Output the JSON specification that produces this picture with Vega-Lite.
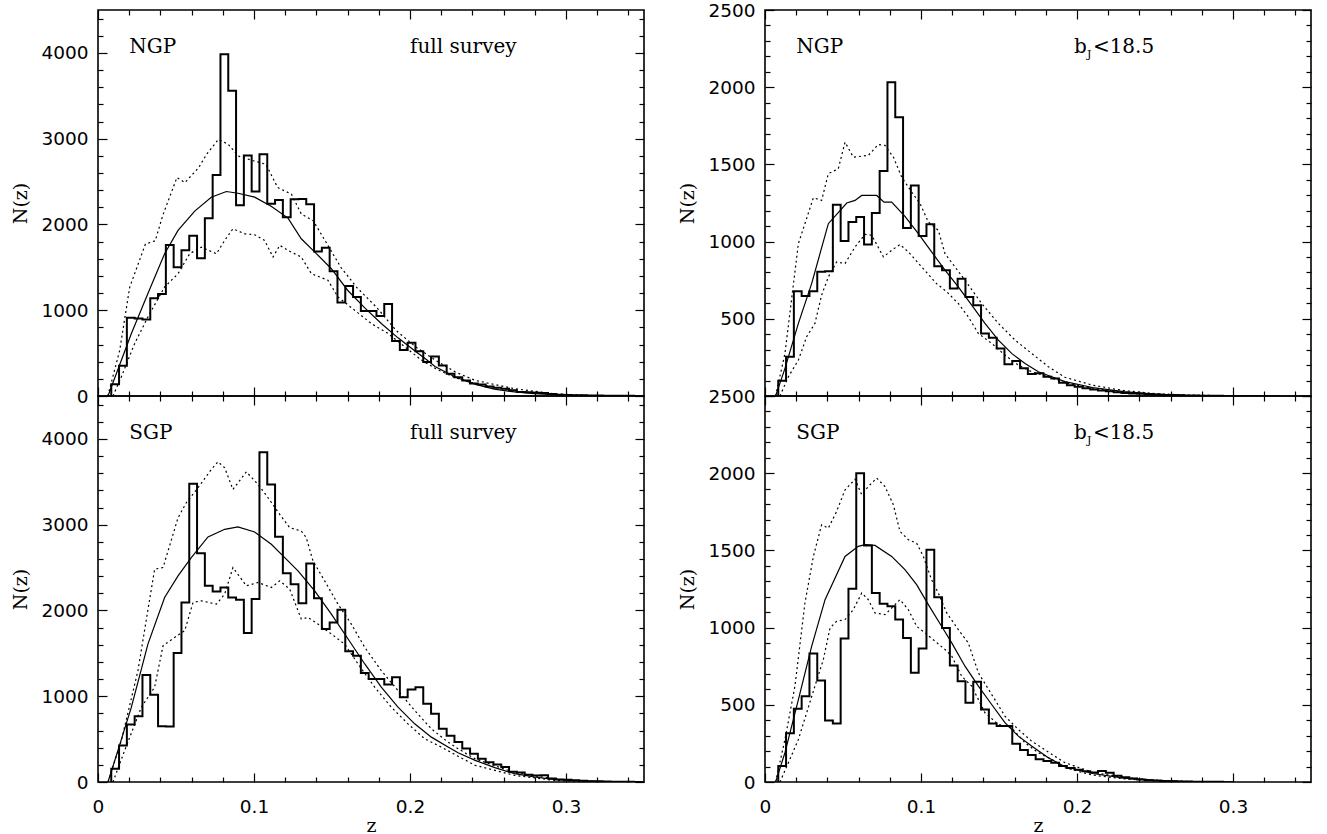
{
  "$schema": "https://vega.github.io/schema/vega-lite/v6.json",
  "background": "white",
  "padding": {"left": 11, "top": 0, "right": 17, "bottom": 3},
  "columns": 2,
  "spacing": {"row": 0, "column": 121},
  "bounds": "flush",
  "datasets": {
    "tl_hist": [
      {"z":0.0085,"n":0},{"z":0.0085,"n":136},{"z":0.0135,"n":353},{"z":0.0185,"n":911},{"z":0.0235,"n":903},{"z":0.0285,"n":891},
      {"z":0.0335,"n":1140},{"z":0.0385,"n":1190},{"z":0.0435,"n":1760},{"z":0.0485,"n":1500},{"z":0.0535,"n":1700},
      {"z":0.0585,"n":1868},{"z":0.0635,"n":1605},{"z":0.0685,"n":2073},{"z":0.0735,"n":2577},{"z":0.0785,"n":3984},
      {"z":0.0835,"n":3558},{"z":0.0885,"n":2225},{"z":0.0935,"n":2803},{"z":0.0985,"n":2384},{"z":0.1035,"n":2818},
      {"z":0.1085,"n":2240},{"z":0.1135,"n":2286},{"z":0.1185,"n":2085},{"z":0.1235,"n":2294},{"z":0.1285,"n":2298},
      {"z":0.1335,"n":2236},{"z":0.1385,"n":1686},{"z":0.1435,"n":1728},{"z":0.1485,"n":1453},{"z":0.1535,"n":1090},
      {"z":0.1585,"n":1283},{"z":0.1635,"n":1155},{"z":0.1685,"n":992},{"z":0.1735,"n":992},{"z":0.1785,"n":934},
      {"z":0.1835,"n":1074},{"z":0.1885,"n":640},{"z":0.1935,"n":535},{"z":0.1985,"n":620},{"z":0.2035,"n":523},
      {"z":0.2085,"n":395},{"z":0.2135,"n":460},{"z":0.2185,"n":357},{"z":0.2235,"n":260},{"z":0.2285,"n":220},
      {"z":0.2335,"n":180},{"z":0.2385,"n":145},{"z":0.2435,"n":135},{"z":0.2485,"n":112},{"z":0.2535,"n":97},
      {"z":0.2585,"n":85},{"z":0.2635,"n":66},{"z":0.2685,"n":47},{"z":0.2735,"n":43},{"z":0.2785,"n":39},
      {"z":0.2835,"n":35},{"z":0.2885,"n":23},{"z":0.2935,"n":16},{"z":0.2985,"n":12},{"z":0.3035,"n":10},
      {"z":0.3085,"n":8},{"z":0.3135,"n":6},{"z":0.3185,"n":5},{"z":0.3235,"n":4},{"z":0.3285,"n":3},
      {"z":0.3335,"n":2},{"z":0.3385,"n":2},{"z":0.3435,"n":1},{"z":0.3485,"n":0}
    ],
    "bl_hist": [
      {"z":0.0085,"n":0},{"z":0.0085,"n":155},{"z":0.0135,"n":426},{"z":0.0185,"n":670},{"z":0.0235,"n":767},{"z":0.0285,"n":1248},
      {"z":0.0335,"n":1016},{"z":0.0385,"n":651},{"z":0.0435,"n":647},{"z":0.0485,"n":1504},{"z":0.0535,"n":2093},
      {"z":0.0585,"n":3477},{"z":0.0635,"n":2667},{"z":0.0685,"n":2287},{"z":0.0735,"n":2221},{"z":0.0785,"n":2267},
      {"z":0.0835,"n":2151},{"z":0.0885,"n":2124},{"z":0.0935,"n":1736},{"z":0.0985,"n":2132},{"z":0.1035,"n":3845},
      {"z":0.1085,"n":3469},{"z":0.1135,"n":2860},{"z":0.1185,"n":2434},{"z":0.1235,"n":2306},{"z":0.1285,"n":2085},
      {"z":0.1335,"n":2547},{"z":0.1385,"n":2143},{"z":0.1435,"n":1783},{"z":0.1485,"n":1860},{"z":0.1535,"n":2008},
      {"z":0.1585,"n":1523},{"z":0.1635,"n":1473},{"z":0.1685,"n":1271},{"z":0.1735,"n":1202},{"z":0.1785,"n":1202},
      {"z":0.1835,"n":1136},{"z":0.1885,"n":1221},{"z":0.1935,"n":988},{"z":0.1985,"n":1078},{"z":0.2035,"n":1105},
      {"z":0.2085,"n":911},{"z":0.2135,"n":795},{"z":0.2185,"n":620},{"z":0.2235,"n":540},{"z":0.2285,"n":465},
      {"z":0.2335,"n":390},{"z":0.2385,"n":330},{"z":0.2435,"n":270},{"z":0.2485,"n":230},{"z":0.2535,"n":205},
      {"z":0.2585,"n":175},{"z":0.2635,"n":120},{"z":0.2685,"n":110},{"z":0.2735,"n":85},{"z":0.2785,"n":75},
      {"z":0.2835,"n":80},{"z":0.2885,"n":40},{"z":0.2935,"n":30},{"z":0.2985,"n":25},{"z":0.3035,"n":20},
      {"z":0.3085,"n":15},{"z":0.3135,"n":10},{"z":0.3185,"n":8},{"z":0.3235,"n":6},{"z":0.3285,"n":4},
      {"z":0.3335,"n":3},{"z":0.3385,"n":2},{"z":0.3435,"n":1},{"z":0.3485,"n":0}
    ],
    "tr_hist": [
      {"z":0.0085,"n":0},{"z":0.0085,"n":99},{"z":0.0135,"n":254},{"z":0.0185,"n":679},{"z":0.0235,"n":647},{"z":0.0285,"n":679},
      {"z":0.0335,"n":804},{"z":0.0385,"n":808},{"z":0.0435,"n":1239},{"z":0.0485,"n":1004},{"z":0.0535,"n":1127},
      {"z":0.0585,"n":1159},{"z":0.0635,"n":981},{"z":0.0685,"n":1185},{"z":0.0735,"n":1457},{"z":0.0785,"n":2032},
      {"z":0.0835,"n":1806},{"z":0.0885,"n":1088},{"z":0.0935,"n":1364},{"z":0.0985,"n":1037},{"z":0.1035,"n":1112},
      {"z":0.1085,"n":840},{"z":0.1135,"n":815},{"z":0.1185,"n":696},{"z":0.1235,"n":759},{"z":0.1285,"n":642},
      {"z":0.1335,"n":588},{"z":0.1385,"n":405},{"z":0.1435,"n":377},{"z":0.1485,"n":308},{"z":0.1535,"n":205},
      {"z":0.1585,"n":226},{"z":0.1635,"n":179},{"z":0.1685,"n":142},{"z":0.1735,"n":147},{"z":0.1785,"n":125},
      {"z":0.1835,"n":114},{"z":0.1885,"n":86},{"z":0.1935,"n":70},{"z":0.1985,"n":60},{"z":0.2035,"n":50},
      {"z":0.2085,"n":42},{"z":0.2135,"n":36},{"z":0.2185,"n":30},{"z":0.2235,"n":25},{"z":0.2285,"n":20},
      {"z":0.2335,"n":17},{"z":0.2385,"n":14},{"z":0.2435,"n":11},{"z":0.2485,"n":9},{"z":0.2535,"n":7},
      {"z":0.2585,"n":6},{"z":0.2635,"n":5},{"z":0.2685,"n":4},{"z":0.2735,"n":3},{"z":0.2785,"n":2},
      {"z":0.2835,"n":2},{"z":0.2885,"n":1},{"z":0.2935,"n":0}
    ],
    "br_hist": [
      {"z":0.0085,"n":0},{"z":0.0085,"n":103},{"z":0.0135,"n":315},{"z":0.0185,"n":474},{"z":0.0235,"n":556},{"z":0.0285,"n":832},
      {"z":0.0335,"n":657},{"z":0.0385,"n":399},{"z":0.0435,"n":379},{"z":0.0485,"n":929},{"z":0.0535,"n":1252},
      {"z":0.0585,"n":2000},{"z":0.0635,"n":1532},{"z":0.0685,"n":1224},{"z":0.0735,"n":1155},{"z":0.0785,"n":1138},
      {"z":0.0835,"n":1052},{"z":0.0885,"n":933},{"z":0.0935,"n":707},{"z":0.0985,"n":864},{"z":0.1035,"n":1504},
      {"z":0.1085,"n":1196},{"z":0.1135,"n":998},{"z":0.1185,"n":754},{"z":0.1235,"n":653},{"z":0.1285,"n":513},
      {"z":0.1335,"n":649},{"z":0.1385,"n":470},{"z":0.1435,"n":379},{"z":0.1485,"n":362},{"z":0.1535,"n":362},
      {"z":0.1585,"n":248},{"z":0.1635,"n":207},{"z":0.1685,"n":175},{"z":0.1735,"n":147},{"z":0.1785,"n":136},
      {"z":0.1835,"n":125},{"z":0.1885,"n":103},{"z":0.1935,"n":90},{"z":0.1985,"n":80},{"z":0.2035,"n":70},
      {"z":0.2085,"n":62},{"z":0.2135,"n":72},{"z":0.2185,"n":60},{"z":0.2235,"n":40},{"z":0.2285,"n":30},
      {"z":0.2335,"n":22},{"z":0.2385,"n":16},{"z":0.2435,"n":12},{"z":0.2485,"n":9},{"z":0.2535,"n":7},
      {"z":0.2585,"n":5},{"z":0.2635,"n":4},{"z":0.2685,"n":3},{"z":0.2735,"n":2},{"z":0.2785,"n":2},
      {"z":0.2835,"n":1},{"z":0.2885,"n":1},{"z":0.2935,"n":0}
    ],
    "tl_model": [
      {"s":"fit","z":0.0064,"n":0},{"s":"fit","z":0.0214,"n":729},{"s":"fit","z":0.032,"n":1194},{"s":"fit","z":0.0427,"n":1659},
      {"s":"fit","z":0.0513,"n":1930},{"s":"fit","z":0.062,"n":2155},{"s":"fit","z":0.0726,"n":2318},{"s":"fit","z":0.0823,"n":2384},
      {"s":"fit","z":0.0897,"n":2364},{"s":"fit","z":0.1004,"n":2318},{"s":"fit","z":0.111,"n":2213},{"s":"fit","z":0.1218,"n":2074},
      {"s":"fit","z":0.1303,"n":1833},{"s":"fit","z":0.139,"n":1678},{"s":"fit","z":0.1496,"n":1484},{"s":"fit","z":0.16,"n":1233},
      {"s":"fit","z":0.171,"n":1027},{"s":"fit","z":0.1816,"n":845},{"s":"fit","z":0.1923,"n":678},{"s":"fit","z":0.203,"n":527},
      {"s":"fit","z":0.2105,"n":426},{"s":"fit","z":0.216,"n":345},{"s":"fit","z":0.229,"n":221},{"s":"fit","z":0.242,"n":136},
      {"s":"fit","z":0.254,"n":81},{"s":"fit","z":0.267,"n":47},{"s":"fit","z":0.28,"n":27},{"s":"fit","z":0.292,"n":16},
      {"s":"fit","z":0.305,"n":8},{"s":"fit","z":0.335,"n":0},
      {"s":"hi","z":0.0063,"n":0},{"s":"hi","z":0.0139,"n":531},{"s":"hi","z":0.0203,"n":1267},{"s":"hi","z":0.0304,"n":1771},
      {"s":"hi","z":0.0367,"n":1810},{"s":"hi","z":0.0418,"n":2120},{"s":"hi","z":0.0506,"n":2547},{"s":"hi","z":0.0557,"n":2488},
      {"s":"hi","z":0.0646,"n":2663},{"s":"hi","z":0.0696,"n":2818},{"s":"hi","z":0.0772,"n":2992},{"s":"hi","z":0.0835,"n":2934},
      {"s":"hi","z":0.0899,"n":2798},{"s":"hi","z":0.1,"n":2740},{"s":"hi","z":0.1076,"n":2702},{"s":"hi","z":0.1152,"n":2430},
      {"s":"hi","z":0.124,"n":2353},{"s":"hi","z":0.1304,"n":2120},{"s":"hi","z":0.138,"n":2043},{"s":"hi","z":0.1456,"n":1810},
      {"s":"hi","z":0.1557,"n":1500},{"s":"hi","z":0.1658,"n":1267},{"s":"hi","z":0.1785,"n":1035},{"s":"hi","z":0.1911,"n":764},
      {"s":"hi","z":0.2038,"n":570},{"s":"hi","z":0.2165,"n":415},{"s":"hi","z":0.2291,"n":279},{"s":"hi","z":0.2418,"n":182},
      {"s":"hi","z":0.267,"n":85},{"s":"hi","z":0.2924,"n":27},{"s":"hi","z":0.3177,"n":4},{"s":"hi","z":0.34,"n":0},
      {"s":"lo","z":0.0096,"n":0},{"s":"lo","z":0.015,"n":225},{"s":"lo","z":0.0235,"n":612},{"s":"lo","z":0.032,"n":922},
      {"s":"lo","z":0.0427,"n":1271},{"s":"lo","z":0.0513,"n":1426},{"s":"lo","z":0.0588,"n":1659},{"s":"lo","z":0.0662,"n":1736},
      {"s":"lo","z":0.0759,"n":1659},{"s":"lo","z":0.0812,"n":1814},{"s":"lo","z":0.0865,"n":1950},{"s":"lo","z":0.094,"n":1891},
      {"s":"lo","z":0.1004,"n":1880},{"s":"lo","z":0.1068,"n":1814},{"s":"lo","z":0.1122,"n":1620},{"s":"lo","z":0.1165,"n":1756},
      {"s":"lo","z":0.1239,"n":1678},{"s":"lo","z":0.1303,"n":1620},{"s":"lo","z":0.1368,"n":1426},{"s":"lo","z":0.1474,"n":1349},
      {"s":"lo","z":0.1538,"n":1155},{"s":"lo","z":0.1645,"n":1000},{"s":"lo","z":0.1752,"n":845},{"s":"lo","z":0.1859,"n":729},
      {"s":"lo","z":0.1966,"n":574},{"s":"lo","z":0.2073,"n":419},{"s":"lo","z":0.2165,"n":318},{"s":"lo","z":0.229,"n":213},
      {"s":"lo","z":0.2418,"n":143},{"s":"lo","z":0.267,"n":58},{"s":"lo","z":0.2924,"n":19},{"s":"lo","z":0.3177,"n":0}
    ],
    "bl_model": [
      {"s":"fit","z":0.0064,"n":0},{"s":"fit","z":0.0128,"n":368},{"s":"fit","z":0.0214,"n":872},{"s":"fit","z":0.032,"n":1608},
      {"s":"fit","z":0.0427,"n":2151},{"s":"fit","z":0.0513,"n":2403},{"s":"fit","z":0.0598,"n":2616},{"s":"fit","z":0.0705,"n":2857},
      {"s":"fit","z":0.0812,"n":2946},{"s":"fit","z":0.0897,"n":2973},{"s":"fit","z":0.1004,"n":2915},{"s":"fit","z":0.1111,"n":2771},
      {"s":"fit","z":0.1197,"n":2616},{"s":"fit","z":0.1282,"n":2461},{"s":"fit","z":0.1389,"n":2229},{"s":"fit","z":0.1496,"n":1957},
      {"s":"fit","z":0.1603,"n":1667},{"s":"fit","z":0.171,"n":1376},{"s":"fit","z":0.1816,"n":1105},{"s":"fit","z":0.1923,"n":872},
      {"s":"fit","z":0.203,"n":678},{"s":"fit","z":0.2137,"n":523},{"s":"fit","z":0.2244,"n":407},{"s":"fit","z":0.2308,"n":340},
      {"s":"fit","z":0.2418,"n":252},{"s":"fit","z":0.2544,"n":167},{"s":"fit","z":0.267,"n":97},{"s":"fit","z":0.2797,"n":58},
      {"s":"fit","z":0.2924,"n":31},{"s":"fit","z":0.305,"n":16},{"s":"fit","z":0.335,"n":0},
      {"s":"hi","z":0.0064,"n":0},{"s":"hi","z":0.015,"n":484},{"s":"hi","z":0.0256,"n":1298},{"s":"hi","z":0.0363,"n":2481},
      {"s":"hi","z":0.0417,"n":2500},{"s":"hi","z":0.0513,"n":3081},{"s":"hi","z":0.0566,"n":3256},{"s":"hi","z":0.0641,"n":3430},
      {"s":"hi","z":0.0726,"n":3643},{"s":"hi","z":0.0769,"n":3733},{"s":"hi","z":0.0812,"n":3663},{"s":"hi","z":0.0865,"n":3411},
      {"s":"hi","z":0.0951,"n":3616},{"s":"hi","z":0.1026,"n":3469},{"s":"hi","z":0.109,"n":3314},{"s":"hi","z":0.1165,"n":3120},
      {"s":"hi","z":0.1229,"n":2965},{"s":"hi","z":0.1303,"n":2926},{"s":"hi","z":0.1335,"n":2849},{"s":"hi","z":0.1378,"n":2577},
      {"s":"hi","z":0.1453,"n":2345},{"s":"hi","z":0.1538,"n":2074},{"s":"hi","z":0.1624,"n":1841},{"s":"hi","z":0.171,"n":1570},
      {"s":"hi","z":0.1816,"n":1298},{"s":"hi","z":0.1923,"n":1066},{"s":"hi","z":0.203,"n":833},{"s":"hi","z":0.2137,"n":620},
      {"s":"hi","z":0.2244,"n":465},{"s":"hi","z":0.2308,"n":388},{"s":"hi","z":0.2418,"n":270},{"s":"hi","z":0.267,"n":110},
      {"s":"hi","z":0.2924,"n":35},{"s":"hi","z":0.3177,"n":6},{"s":"hi","z":0.34,"n":0},
      {"s":"lo","z":0.0096,"n":0},{"s":"lo","z":0.0171,"n":368},{"s":"lo","z":0.0278,"n":872},{"s":"lo","z":0.0363,"n":1105},
      {"s":"lo","z":0.0417,"n":1589},{"s":"lo","z":0.0491,"n":1686},{"s":"lo","z":0.0556,"n":1764},{"s":"lo","z":0.0609,"n":2093},
      {"s":"lo","z":0.0662,"n":2112},{"s":"lo","z":0.0759,"n":2074},{"s":"lo","z":0.0812,"n":2190},{"s":"lo","z":0.0865,"n":2500},
      {"s":"lo","z":0.0951,"n":2287},{"s":"lo","z":0.1026,"n":2326},{"s":"lo","z":0.1111,"n":2267},{"s":"lo","z":0.1165,"n":2345},
      {"s":"lo","z":0.1229,"n":2248},{"s":"lo","z":0.1303,"n":1899},{"s":"lo","z":0.1346,"n":1919},{"s":"lo","z":0.141,"n":1841},
      {"s":"lo","z":0.1496,"n":1725},{"s":"lo","z":0.1581,"n":1608},{"s":"lo","z":0.1667,"n":1376},{"s":"lo","z":0.1774,"n":1105},
      {"s":"lo","z":0.188,"n":872},{"s":"lo","z":0.1987,"n":678},{"s":"lo","z":0.2094,"n":504},{"s":"lo","z":0.2201,"n":407},
      {"s":"lo","z":0.2308,"n":300},{"s":"lo","z":0.2418,"n":194},{"s":"lo","z":0.267,"n":78},{"s":"lo","z":0.2924,"n":19},
      {"s":"lo","z":0.3177,"n":0}
    ],
    "tr_model": [
      {"s":"fit","z":0.0068,"n":0},{"s":"fit","z":0.0128,"n":179},{"s":"fit","z":0.0214,"n":470},{"s":"fit","z":0.0299,"n":728},
      {"s":"fit","z":0.0406,"n":1116},{"s":"fit","z":0.0524,"n":1250},{"s":"fit","z":0.0577,"n":1267},{"s":"fit","z":0.062,"n":1299},
      {"s":"fit","z":0.0716,"n":1299},{"s":"fit","z":0.0763,"n":1256},{"s":"fit","z":0.0812,"n":1256},{"s":"fit","z":0.0897,"n":1164},
      {"s":"fit","z":0.0983,"n":1052},{"s":"fit","z":0.1068,"n":933},{"s":"fit","z":0.1154,"n":815},{"s":"fit","z":0.1239,"n":707},
      {"s":"fit","z":0.1325,"n":588},{"s":"fit","z":0.141,"n":470},{"s":"fit","z":0.1496,"n":362},{"s":"fit","z":0.1581,"n":276},
      {"s":"fit","z":0.1667,"n":211},{"s":"fit","z":0.1752,"n":157},{"s":"fit","z":0.1838,"n":125},{"s":"fit","z":0.1923,"n":93},
      {"s":"fit","z":0.21,"n":55},{"s":"fit","z":0.23,"n":28},{"s":"fit","z":0.25,"n":12},{"s":"fit","z":0.27,"n":4},
      {"s":"fit","z":0.3,"n":1},{"s":"fit","z":0.33,"n":0},
      {"s":"hi","z":0.0068,"n":0},{"s":"hi","z":0.0128,"n":276},{"s":"hi","z":0.0214,"n":987},{"s":"hi","z":0.031,"n":1284},
      {"s":"hi","z":0.0363,"n":1267},{"s":"hi","z":0.0406,"n":1440},{"s":"hi","z":0.047,"n":1472},{"s":"hi","z":0.0513,"n":1644},
      {"s":"hi","z":0.0566,"n":1547},{"s":"hi","z":0.0662,"n":1558},{"s":"hi","z":0.0726,"n":1629},{"s":"hi","z":0.0769,"n":1623},
      {"s":"hi","z":0.0823,"n":1547},{"s":"hi","z":0.0876,"n":1418},{"s":"hi","z":0.094,"n":1321},{"s":"hi","z":0.0994,"n":1246},
      {"s":"hi","z":0.1047,"n":1127},{"s":"hi","z":0.1111,"n":1073},{"s":"hi","z":0.1154,"n":922},{"s":"hi","z":0.1282,"n":750},
      {"s":"hi","z":0.1389,"n":599},{"s":"hi","z":0.1496,"n":470},{"s":"hi","z":0.1603,"n":362},{"s":"hi","z":0.1709,"n":276},
      {"s":"hi","z":0.1816,"n":190},{"s":"hi","z":0.1923,"n":121},{"s":"hi","z":0.21,"n":70},{"s":"hi","z":0.23,"n":35},
      {"s":"hi","z":0.25,"n":16},{"s":"hi","z":0.27,"n":6},{"s":"hi","z":0.3,"n":1},{"s":"hi","z":0.33,"n":0},
      {"s":"lo","z":0.0096,"n":0},{"s":"lo","z":0.015,"n":125},{"s":"lo","z":0.0214,"n":233},{"s":"lo","z":0.0267,"n":384},
      {"s":"lo","z":0.032,"n":470},{"s":"lo","z":0.0363,"n":653},{"s":"lo","z":0.0406,"n":771},{"s":"lo","z":0.0459,"n":868},
      {"s":"lo","z":0.0513,"n":858},{"s":"lo","z":0.0577,"n":965},{"s":"lo","z":0.0641,"n":1047},{"s":"lo","z":0.0684,"n":1041},
      {"s":"lo","z":0.0759,"n":901},{"s":"lo","z":0.0812,"n":944},{"s":"lo","z":0.0865,"n":981},{"s":"lo","z":0.0919,"n":933},
      {"s":"lo","z":0.1004,"n":836},{"s":"lo","z":0.11,"n":728},{"s":"lo","z":0.1165,"n":675},{"s":"lo","z":0.1239,"n":599},
      {"s":"lo","z":0.1303,"n":513},{"s":"lo","z":0.1368,"n":405},{"s":"lo","z":0.1453,"n":341},{"s":"lo","z":0.1538,"n":265},
      {"s":"lo","z":0.1624,"n":200},{"s":"lo","z":0.1709,"n":157},{"s":"lo","z":0.1816,"n":125},{"s":"lo","z":0.1923,"n":86},
      {"s":"lo","z":0.21,"n":50},{"s":"lo","z":0.23,"n":25},{"s":"lo","z":0.25,"n":10},{"s":"lo","z":0.27,"n":3},
      {"s":"lo","z":0.3,"n":0}
    ],
    "br_model": [
      {"s":"fit","z":0.0068,"n":0},{"s":"fit","z":0.0128,"n":190},{"s":"fit","z":0.0214,"n":534},{"s":"fit","z":0.0299,"n":879},
      {"s":"fit","z":0.0385,"n":1181},{"s":"fit","z":0.0513,"n":1461},{"s":"fit","z":0.0598,"n":1526},{"s":"fit","z":0.0641,"n":1537},
      {"s":"fit","z":0.0705,"n":1532},{"s":"fit","z":0.0812,"n":1461},{"s":"fit","z":0.0897,"n":1375},{"s":"fit","z":0.0972,"n":1278},
      {"s":"fit","z":0.1047,"n":1149},{"s":"fit","z":0.1132,"n":1009},{"s":"fit","z":0.1197,"n":901},{"s":"fit","z":0.1282,"n":750},
      {"s":"fit","z":0.1368,"n":621},{"s":"fit","z":0.1453,"n":502},{"s":"fit","z":0.1538,"n":384},{"s":"fit","z":0.1624,"n":297},
      {"s":"fit","z":0.1709,"n":233},{"s":"fit","z":0.1816,"n":157},{"s":"fit","z":0.1923,"n":99},{"s":"fit","z":0.21,"n":55},
      {"s":"fit","z":0.23,"n":25},{"s":"fit","z":0.25,"n":10},{"s":"fit","z":0.27,"n":3},{"s":"fit","z":0.3,"n":0},
      {"s":"hi","z":0.0068,"n":0},{"s":"hi","z":0.0128,"n":276},{"s":"hi","z":0.0192,"n":621},{"s":"hi","z":0.0256,"n":1159},
      {"s":"hi","z":0.031,"n":1461},{"s":"hi","z":0.0363,"n":1666},{"s":"hi","z":0.0406,"n":1644},{"s":"hi","z":0.0459,"n":1752},
      {"s":"hi","z":0.0513,"n":1892},{"s":"hi","z":0.0577,"n":1961},{"s":"hi","z":0.062,"n":1860},{"s":"hi","z":0.0662,"n":1914},
      {"s":"hi","z":0.0716,"n":1968},{"s":"hi","z":0.0769,"n":1914},{"s":"hi","z":0.0823,"n":1795},{"s":"hi","z":0.0865,"n":1623},
      {"s":"hi","z":0.0919,"n":1569},{"s":"hi","z":0.0972,"n":1547},{"s":"hi","z":0.1015,"n":1461},{"s":"hi","z":0.1068,"n":1310},
      {"s":"hi","z":0.1111,"n":1224},{"s":"hi","z":0.1165,"n":1095},{"s":"hi","z":0.1239,"n":987},{"s":"hi","z":0.1303,"n":901},
      {"s":"hi","z":0.1368,"n":707},{"s":"hi","z":0.1453,"n":567},{"s":"hi","z":0.1538,"n":427},{"s":"hi","z":0.1624,"n":340},
      {"s":"hi","z":0.1709,"n":265},{"s":"hi","z":0.1816,"n":194},{"s":"hi","z":0.1923,"n":125},{"s":"hi","z":0.21,"n":62},
      {"s":"hi","z":0.23,"n":30},{"s":"hi","z":0.25,"n":12},{"s":"hi","z":0.27,"n":4},{"s":"hi","z":0.3,"n":0},
      {"s":"lo","z":0.0096,"n":0},{"s":"lo","z":0.015,"n":125},{"s":"lo","z":0.0214,"n":276},{"s":"lo","z":0.0267,"n":448},
      {"s":"lo","z":0.032,"n":621},{"s":"lo","z":0.0374,"n":793},{"s":"lo","z":0.0417,"n":998},{"s":"lo","z":0.0459,"n":1041},
      {"s":"lo","z":0.0513,"n":1052},{"s":"lo","z":0.0566,"n":1116},{"s":"lo","z":0.062,"n":1224},{"s":"lo","z":0.0662,"n":1181},
      {"s":"lo","z":0.0705,"n":1095},{"s":"lo","z":0.0769,"n":1084},{"s":"lo","z":0.0823,"n":1138},{"s":"lo","z":0.0865,"n":1181},
      {"s":"lo","z":0.0919,"n":1116},{"s":"lo","z":0.0972,"n":1009},{"s":"lo","z":0.1026,"n":965},{"s":"lo","z":0.109,"n":912},
      {"s":"lo","z":0.1154,"n":858},{"s":"lo","z":0.1197,"n":815},{"s":"lo","z":0.1261,"n":685},{"s":"lo","z":0.1325,"n":621},
      {"s":"lo","z":0.141,"n":448},{"s":"lo","z":0.1496,"n":373},{"s":"lo","z":0.1581,"n":351},{"s":"lo","z":0.1667,"n":254},
      {"s":"lo","z":0.1752,"n":190},{"s":"lo","z":0.1838,"n":147},{"s":"lo","z":0.1923,"n":92},{"s":"lo","z":0.21,"n":45},
      {"s":"lo","z":0.23,"n":20},{"s":"lo","z":0.25,"n":8},{"s":"lo","z":0.27,"n":2},{"s":"lo","z":0.3,"n":0}
    ],
    "tl_text": [{"z":0.02,"n":4000,"label":"NGP"},{"z":0.2,"n":4000,"label":"full survey"}],
    "bl_text": [{"z":0.02,"n":4000,"label":"SGP"},{"z":0.2,"n":4000,"label":"full survey"}],
    "tr_text": [{"z":0.02,"n":2220,"label":"NGP"},{"z":0.198,"n":2220,"label":"b"}],
    "br_text": [{"z":0.02,"n":2220,"label":"SGP"},{"z":0.198,"n":2220,"label":"b"}]
  },
  "concat": [
    {
      "width": 546, "height": 386,
      "resolve": {"axis": {"x": "independent", "y": "independent"}},
      "layer": [
        {
          "data": {"name": "tl_hist"},
          "mark": {"type": "line", "interpolate": "step-after", "color": "black", "strokeWidth": 2, "clip": true},
          "encoding": {
            "x": {"field": "z", "type": "quantitative", "scale": {"domain": [0, 0.35], "nice": false},
              "axis": {"orient": "bottom", "values": [0,0.02,0.04,0.06,0.08,0.1,0.12,0.14,0.16,0.18,0.2,0.22,0.24,0.26,0.28,0.3,0.32,0.34],
                "tickSize": {"condition": {"test": "datum.value == 0 || datum.value == 0.1 || datum.value == 0.2 || datum.value == 0.3", "value": -9}, "value": -5},
                "labels": false, "title": null}},
            "y": {"field": "n", "type": "quantitative", "scale": {"domain": [0, 4500], "nice": false},
              "axis": {"orient": "left", "values": [0,200,400,600,800,1000,1200,1400,1600,1800,2000,2200,2400,2600,2800,3000,3200,3400,3600,3800,4000,4200,4400],
                "tickSize": {"condition": {"test": "datum.value % 1000 == 0", "value": -9}, "value": -5},
                "labelExpr": "datum.value % 1000 == 0 ? format(datum.value, 'd') : ''",
                "labelPadding": 19, "title": "N(z)", "titlePadding": 10}}
          }
        },
        {
          "data": {"name": "tl_model"},
          "transform": [{"filter": "datum.s == 'fit'"}],
          "mark": {"type": "line", "color": "black", "strokeWidth": 1.2, "clip": true},
          "encoding": {
            "x": {"field": "z", "type": "quantitative",
              "axis": {"orient": "top", "values": [0,0.02,0.04,0.06,0.08,0.1,0.12,0.14,0.16,0.18,0.2,0.22,0.24,0.26,0.28,0.3,0.32,0.34],
                "tickSize": {"condition": {"test": "datum.value == 0 || datum.value == 0.1 || datum.value == 0.2 || datum.value == 0.3", "value": -9}, "value": -5},
                "labels": false, "title": null}},
            "y": {"field": "n", "type": "quantitative",
              "axis": {"orient": "right", "values": [0,200,400,600,800,1000,1200,1400,1600,1800,2000,2200,2400,2600,2800,3000,3200,3400,3600,3800,4000,4200,4400],
                "tickSize": {"condition": {"test": "datum.value % 1000 == 0", "value": -9}, "value": -5},
                "labels": false, "title": null}}
          }
        },
        {
          "data": {"name": "tl_model"},
          "transform": [{"filter": "datum.s != 'fit'"}],
          "mark": {"type": "line", "color": "black", "strokeWidth": 1.2, "strokeDash": [2, 3], "clip": true},
          "encoding": {
            "x": {"field": "z", "type": "quantitative", "axis": null},
            "y": {"field": "n", "type": "quantitative", "axis": null},
            "detail": {"field": "s"}
          }
        },
        {
          "data": {"name": "tl_text"},
          "mark": {"type": "text", "align": "left", "baseline": "alphabetic", "font": "DejaVu Serif", "fontSize": 20, "color": "black"},
          "encoding": {
            "x": {"field": "z", "type": "quantitative", "axis": null},
            "y": {"field": "n", "type": "quantitative", "axis": null},
            "text": {"field": "label"}
          }
        }
      ]
    },
    {
      "width": 546, "height": 386,
      "resolve": {"axis": {"x": "independent", "y": "independent"}},
      "layer": [
        {
          "data": {"name": "tr_hist"},
          "mark": {"type": "line", "interpolate": "step-after", "color": "black", "strokeWidth": 2, "clip": true},
          "encoding": {
            "x": {"field": "z", "type": "quantitative", "scale": {"domain": [0, 0.35], "nice": false},
              "axis": {"orient": "bottom", "values": [0,0.02,0.04,0.06,0.08,0.1,0.12,0.14,0.16,0.18,0.2,0.22,0.24,0.26,0.28,0.3,0.32,0.34],
                "tickSize": {"condition": {"test": "datum.value == 0 || datum.value == 0.1 || datum.value == 0.2 || datum.value == 0.3", "value": -9}, "value": -5},
                "labels": false, "title": null}},
            "y": {"field": "n", "type": "quantitative", "scale": {"domain": [0, 2500], "nice": false},
              "axis": {"orient": "left", "values": [0,100,200,300,400,500,600,700,800,900,1000,1100,1200,1300,1400,1500,1600,1700,1800,1900,2000,2100,2200,2300,2400,2500],
                "tickSize": {"condition": {"test": "datum.value % 500 == 0", "value": -9}, "value": -5},
                "labelExpr": "datum.value % 500 == 0 && datum.value > 0 ? format(datum.value, 'd') : ''",
                "labelPadding": 19, "title": "N(z)", "titlePadding": 10}}
          }
        },
        {
          "data": {"name": "tr_model"},
          "transform": [{"filter": "datum.s == 'fit'"}],
          "mark": {"type": "line", "color": "black", "strokeWidth": 1.2, "clip": true},
          "encoding": {
            "x": {"field": "z", "type": "quantitative",
              "axis": {"orient": "top", "values": [0,0.02,0.04,0.06,0.08,0.1,0.12,0.14,0.16,0.18,0.2,0.22,0.24,0.26,0.28,0.3,0.32,0.34],
                "tickSize": {"condition": {"test": "datum.value == 0 || datum.value == 0.1 || datum.value == 0.2 || datum.value == 0.3", "value": -9}, "value": -5},
                "labels": false, "title": null}},
            "y": {"field": "n", "type": "quantitative",
              "axis": {"orient": "right", "values": [0,100,200,300,400,500,600,700,800,900,1000,1100,1200,1300,1400,1500,1600,1700,1800,1900,2000,2100,2200,2300,2400,2500],
                "tickSize": {"condition": {"test": "datum.value % 500 == 0", "value": -9}, "value": -5},
                "labels": false, "title": null}}
          }
        },
        {
          "data": {"name": "tr_model"},
          "transform": [{"filter": "datum.s != 'fit'"}],
          "mark": {"type": "line", "color": "black", "strokeWidth": 1.2, "strokeDash": [2, 3], "clip": true},
          "encoding": {
            "x": {"field": "z", "type": "quantitative", "axis": null},
            "y": {"field": "n", "type": "quantitative", "axis": null},
            "detail": {"field": "s"}
          }
        },
        {
          "data": {"name": "tr_text"},
          "mark": {"type": "text", "align": "left", "baseline": "alphabetic", "font": "DejaVu Serif", "fontSize": 20, "color": "black"},
          "encoding": {
            "x": {"field": "z", "type": "quantitative", "axis": null},
            "y": {"field": "n", "type": "quantitative", "axis": null},
            "text": {"field": "label"}
          }
        },
        {
          "data": {"name": "tr_text"},
          "transform": [{"filter": "datum.label == 'b'"}],
          "mark": {"type": "text", "align": "left", "baseline": "alphabetic", "font": "DejaVu Serif", "fontSize": 11, "dx": 13, "dy": 5, "color": "black"},
          "encoding": {
            "x": {"field": "z", "type": "quantitative", "axis": null},
            "y": {"field": "n", "type": "quantitative", "axis": null},
            "text": {"value": "J"}
          }
        },
        {
          "data": {"name": "tr_text"},
          "transform": [{"filter": "datum.label == 'b'"}],
          "mark": {"type": "text", "align": "left", "baseline": "alphabetic", "font": "DejaVu Serif", "fontSize": 20, "dx": 19, "color": "black"},
          "encoding": {
            "x": {"field": "z", "type": "quantitative", "axis": null},
            "y": {"field": "n", "type": "quantitative", "axis": null},
            "text": {"value": "<18.5"}
          }
        }
      ]
    },
    {
      "width": 546, "height": 386,
      "resolve": {"axis": {"x": "independent", "y": "independent"}},
      "layer": [
        {
          "data": {"name": "bl_hist"},
          "mark": {"type": "line", "interpolate": "step-after", "color": "black", "strokeWidth": 2, "clip": true},
          "encoding": {
            "x": {"field": "z", "type": "quantitative", "scale": {"domain": [0, 0.35], "nice": false},
              "axis": {"orient": "bottom", "values": [0,0.02,0.04,0.06,0.08,0.1,0.12,0.14,0.16,0.18,0.2,0.22,0.24,0.26,0.28,0.3,0.32,0.34],
                "tickSize": {"condition": {"test": "datum.value == 0 || datum.value == 0.1 || datum.value == 0.2 || datum.value == 0.3", "value": -9}, "value": -5},
                "labelExpr": "datum.value == 0 || datum.value == 0.1 || datum.value == 0.2 || datum.value == 0.3 ? format(datum.value, '~g') : ''",
                "labelPadding": 24, "title": "z", "titlePadding": -3}},
            "y": {"field": "n", "type": "quantitative", "scale": {"domain": [0, 4500], "nice": false},
              "axis": {"orient": "left", "values": [0,200,400,600,800,1000,1200,1400,1600,1800,2000,2200,2400,2600,2800,3000,3200,3400,3600,3800,4000,4200,4400],
                "tickSize": {"condition": {"test": "datum.value % 1000 == 0", "value": -9}, "value": -5},
                "labelExpr": "datum.value % 1000 == 0 ? format(datum.value, 'd') : ''",
                "labelPadding": 19, "title": "N(z)", "titlePadding": 10}}
          }
        },
        {
          "data": {"name": "bl_model"},
          "transform": [{"filter": "datum.s == 'fit'"}],
          "mark": {"type": "line", "color": "black", "strokeWidth": 1.2, "clip": true},
          "encoding": {
            "x": {"field": "z", "type": "quantitative",
              "axis": {"orient": "top", "values": [0,0.02,0.04,0.06,0.08,0.1,0.12,0.14,0.16,0.18,0.2,0.22,0.24,0.26,0.28,0.3,0.32,0.34],
                "tickSize": {"condition": {"test": "datum.value == 0 || datum.value == 0.1 || datum.value == 0.2 || datum.value == 0.3", "value": -9}, "value": -5},
                "labels": false, "title": null}},
            "y": {"field": "n", "type": "quantitative",
              "axis": {"orient": "right", "values": [0,200,400,600,800,1000,1200,1400,1600,1800,2000,2200,2400,2600,2800,3000,3200,3400,3600,3800,4000,4200,4400],
                "tickSize": {"condition": {"test": "datum.value % 1000 == 0", "value": -9}, "value": -5},
                "labels": false, "title": null}}
          }
        },
        {
          "data": {"name": "bl_model"},
          "transform": [{"filter": "datum.s != 'fit'"}],
          "mark": {"type": "line", "color": "black", "strokeWidth": 1.2, "strokeDash": [2, 3], "clip": true},
          "encoding": {
            "x": {"field": "z", "type": "quantitative", "axis": null},
            "y": {"field": "n", "type": "quantitative", "axis": null},
            "detail": {"field": "s"}
          }
        },
        {
          "data": {"name": "bl_text"},
          "mark": {"type": "text", "align": "left", "baseline": "alphabetic", "font": "DejaVu Serif", "fontSize": 20, "color": "black"},
          "encoding": {
            "x": {"field": "z", "type": "quantitative", "axis": null},
            "y": {"field": "n", "type": "quantitative", "axis": null},
            "text": {"field": "label"}
          }
        }
      ]
    },
    {
      "width": 546, "height": 386,
      "resolve": {"axis": {"x": "independent", "y": "independent"}},
      "layer": [
        {
          "data": {"name": "br_hist"},
          "mark": {"type": "line", "interpolate": "step-after", "color": "black", "strokeWidth": 2, "clip": true},
          "encoding": {
            "x": {"field": "z", "type": "quantitative", "scale": {"domain": [0, 0.35], "nice": false},
              "axis": {"orient": "bottom", "values": [0,0.02,0.04,0.06,0.08,0.1,0.12,0.14,0.16,0.18,0.2,0.22,0.24,0.26,0.28,0.3,0.32,0.34],
                "tickSize": {"condition": {"test": "datum.value == 0 || datum.value == 0.1 || datum.value == 0.2 || datum.value == 0.3", "value": -9}, "value": -5},
                "labelExpr": "datum.value == 0 || datum.value == 0.1 || datum.value == 0.2 || datum.value == 0.3 ? format(datum.value, '~g') : ''",
                "labelPadding": 24, "title": "z", "titlePadding": -3}},
            "y": {"field": "n", "type": "quantitative", "scale": {"domain": [0, 2500], "nice": false},
              "axis": {"orient": "left", "values": [0,100,200,300,400,500,600,700,800,900,1000,1100,1200,1300,1400,1500,1600,1700,1800,1900,2000,2100,2200,2300,2400,2500],
                "tickSize": {"condition": {"test": "datum.value % 500 == 0", "value": -9}, "value": -5},
                "labelExpr": "datum.value % 500 == 0 ? format(datum.value, 'd') : ''",
                "labelPadding": 19, "title": "N(z)", "titlePadding": 10}}
          }
        },
        {
          "data": {"name": "br_model"},
          "transform": [{"filter": "datum.s == 'fit'"}],
          "mark": {"type": "line", "color": "black", "strokeWidth": 1.2, "clip": true},
          "encoding": {
            "x": {"field": "z", "type": "quantitative",
              "axis": {"orient": "top", "values": [0,0.02,0.04,0.06,0.08,0.1,0.12,0.14,0.16,0.18,0.2,0.22,0.24,0.26,0.28,0.3,0.32,0.34],
                "tickSize": {"condition": {"test": "datum.value == 0 || datum.value == 0.1 || datum.value == 0.2 || datum.value == 0.3", "value": -9}, "value": -5},
                "labels": false, "title": null}},
            "y": {"field": "n", "type": "quantitative",
              "axis": {"orient": "right", "values": [0,100,200,300,400,500,600,700,800,900,1000,1100,1200,1300,1400,1500,1600,1700,1800,1900,2000,2100,2200,2300,2400,2500],
                "tickSize": {"condition": {"test": "datum.value % 500 == 0", "value": -9}, "value": -5},
                "labels": false, "title": null}}
          }
        },
        {
          "data": {"name": "br_model"},
          "transform": [{"filter": "datum.s != 'fit'"}],
          "mark": {"type": "line", "color": "black", "strokeWidth": 1.2, "strokeDash": [2, 3], "clip": true},
          "encoding": {
            "x": {"field": "z", "type": "quantitative", "axis": null},
            "y": {"field": "n", "type": "quantitative", "axis": null},
            "detail": {"field": "s"}
          }
        },
        {
          "data": {"name": "br_text"},
          "mark": {"type": "text", "align": "left", "baseline": "alphabetic", "font": "DejaVu Serif", "fontSize": 20, "color": "black"},
          "encoding": {
            "x": {"field": "z", "type": "quantitative", "axis": null},
            "y": {"field": "n", "type": "quantitative", "axis": null},
            "text": {"field": "label"}
          }
        },
        {
          "data": {"name": "br_text"},
          "transform": [{"filter": "datum.label == 'b'"}],
          "mark": {"type": "text", "align": "left", "baseline": "alphabetic", "font": "DejaVu Serif", "fontSize": 11, "dx": 13, "dy": 5, "color": "black"},
          "encoding": {
            "x": {"field": "z", "type": "quantitative", "axis": null},
            "y": {"field": "n", "type": "quantitative", "axis": null},
            "text": {"value": "J"}
          }
        },
        {
          "data": {"name": "br_text"},
          "transform": [{"filter": "datum.label == 'b'"}],
          "mark": {"type": "text", "align": "left", "baseline": "alphabetic", "font": "DejaVu Serif", "fontSize": 20, "dx": 19, "color": "black"},
          "encoding": {
            "x": {"field": "z", "type": "quantitative", "axis": null},
            "y": {"field": "n", "type": "quantitative", "axis": null},
            "text": {"value": "<18.5"}
          }
        }
      ]
    }
  ],
  "config": {
    "view": {"stroke": "black", "strokeWidth": 1.6},
    "axis": {
      "domain": false, "grid": false,
      "tickColor": "black", "tickWidth": 1.2,
      "labelFont": "DejaVu Sans", "labelFontSize": 18.5, "labelColor": "black",
      "labelOverlap": false, "labelFlush": false,
      "titleFont": "DejaVu Serif", "titleFontSize": 19, "titleFontWeight": "normal", "titleColor": "black"
    }
  }
}
